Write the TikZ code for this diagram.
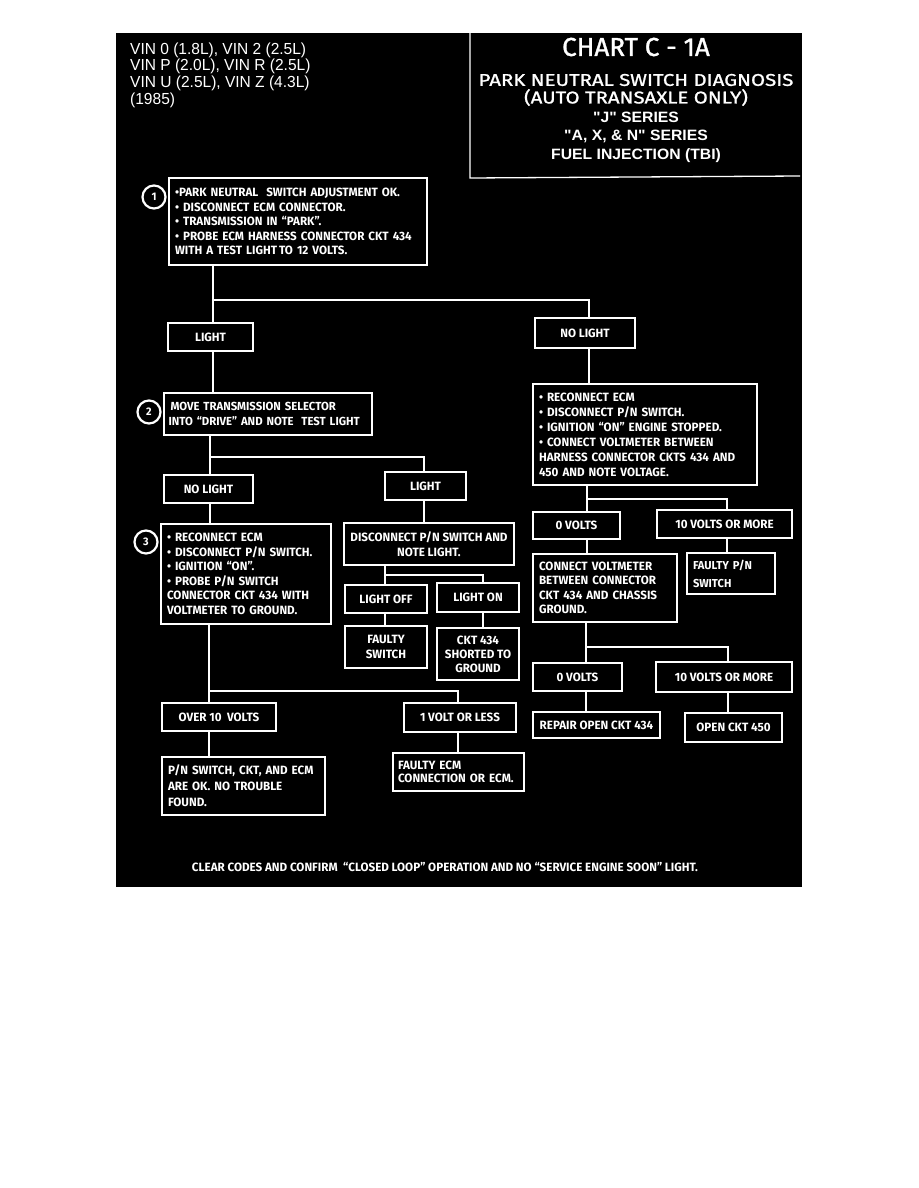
\documentclass[tikz,border=0pt]{standalone}
\usepackage{fontspec}
\setmainfont{Fira Sans}
\newfontfamily\boxfont[FakeStretch=0.97]{Fira Sans}
\newfontfamily\titlefont[FakeBold=1.2]{Fira Sans}
\newfontfamily\widetitlefont[FakeBold=1.2, FakeStretch=1.2]{Fira Sans}
\newfontfamily\vinfont[FakeStretch=0.97]{Liberation Sans}
\newfontfamily\helvfont[FakeStretch=1.05]{Liberation Sans}
\begin{document}
\begin{tikzpicture}[x=1pt,y=-1pt,
  box/.style={draw=white, line width=1.4pt, fill=black, text=white,
    font=\boxfont\bfseries\fontsize{12}{14.5}\selectfont, inner sep=0pt, align=center},
  lbox/.style={box, align=left, inner xsep=6pt},
  conn/.style={draw=white, line width=2.6pt},
  frame/.style={draw=white, line width=1.3pt},
  circ/.style={circle, draw=white, line width=2.2pt, minimum size=23pt, inner sep=0pt,
    text=white, font=\boxfont\bfseries\fontsize{11}{11}\selectfont},
  vin/.style={text=white, anchor=west, inner sep=0pt, font=\vinfont\fontsize{16}{16}\selectfont},
  ttl/.style={text=white, inner sep=0pt, font=\widetitlefont\fontsize{17}{17}\selectfont},
  sub/.style={text=white, inner sep=0pt, font=\helvfont\bfseries\fontsize{15}{15}\selectfont}
]
\useasboundingbox (0,0) rectangle (918,1188);
\fill[white] (0,0) rectangle (918,1188);
\fill[black] (116,33) rectangle (802,887);

% header
\node[vin] (vin1) at (130,50) {VIN 0 (1.8L), VIN 2 (2.5L)};
\node[vin] (vin2) at (130,66) {VIN P (2.0L), VIN R (2.5L)};
\node[vin] (vin3) at (130,83) {VIN U (2.5L), VIN Z (4.3L)};
\node[vin] (vin4) at (130,100) {(1985)};
\coordinate (dtop) at (470,33);
\coordinate (dbot) at (470,178);
\coordinate (dend) at (800,176);
\draw[frame] (dtop) -- (dbot) -- (dend);
\node[text=white, inner sep=0pt, font=\titlefont\fontsize{26}{26}\selectfont] (t1) at (636,47) {CHART C - 1A};
\node[ttl] (t2) at (636,80) {PARK NEUTRAL SWITCH DIAGNOSIS};
\node[ttl] (t3) at (636,97.5) {(AUTO TRANSAXLE ONLY)};
\node[sub] (t4) at (636,117) {"J" SERIES};
\node[sub] (t5) at (636,136) {"A, X, \& N" SERIES};
\node[sub] (t6) at (636,156) {FUEL INJECTION (TBI)};

% boxes
\node[lbox, text width=246pt, minimum height=87pt] (b1) at (298,221.5) {%
\textbullet PARK NEUTRAL\ \ SWITCH ADJUSTMENT OK.\\
\textbullet\ DISCONNECT ECM CONNECTOR.\\
\textbullet\ TRANSMISSION IN “PARK”.\\
\textbullet\ PROBE ECM HARNESS CONNECTOR CKT 434\\
WITH A TEST LIGHT\,TO 12 VOLTS.};
\node[circ] (c1) at (154,197) {1};

\node[box, minimum width=85pt, minimum height=28pt] (light1) at (210.5,337) {LIGHT};
\node[box, minimum width=100pt, minimum height=30pt] (nolight1) at (585,333) {NO LIGHT};

\node[lbox, text width=199pt, inner xsep=4.5pt, minimum height=42pt,
  font=\boxfont\bfseries\fontsize{11.7}{14.5}\selectfont] (b2) at (268,414) {%
\hspace{2pt}MOVE TRANSMISSION SELECTOR\\
INTO “DRIVE” AND NOTE\ \ TEST LIGHT};
\node[circ] (c2) at (149,412) {2};

\node[lbox, text width=212pt, minimum height=101pt, font=\boxfont\bfseries\fontsize{12}{15}\selectfont] (bR) at (645,434.5) {%
\textbullet\ RECONNECT ECM\\
\textbullet\ DISCONNECT P/N SWITCH.\\
\textbullet\ IGNITION “ON” ENGINE STOPPED.\\
\textbullet\ CONNECT VOLTMETER BETWEEN\\
HARNESS CONNECTOR CKTS 434 AND\\
450 AND NOTE VOLTAGE.};

\node[box, minimum width=89pt, minimum height=28pt] (nolight2) at (208.5,489) {NO LIGHT};
\node[box, minimum width=81pt, minimum height=28pt] (light2) at (425.5,486) {LIGHT};

\node[lbox, text width=158pt, minimum height=100pt] (b3) at (246,574) {%
\textbullet\ RECONNECT ECM\\
\textbullet\ DISCONNECT P/N SWITCH.\\
\textbullet\ IGNITION “ON”.\\
\textbullet\ PROBE P/N SWITCH\\
CONNECTOR CKT 434 WITH\\
VOLTMETER TO GROUND.};
\node[circ] (c3) at (146,542) {3};

\node[box, minimum width=170pt, minimum height=42pt] (disc) at (429,544) {DISCONNECT P/N SWITCH AND\\NOTE LIGHT.};
\node[box, minimum width=82pt, minimum height=28pt] (loff) at (386,599) {LIGHT OFF};
\node[box, minimum width=82pt, minimum height=29pt] (lon) at (478,597.5) {LIGHT ON};
\node[box, minimum width=82pt, minimum height=42pt] (fsw) at (386,647) {FAULTY\\SWITCH};
\node[box, minimum width=82pt, minimum height=52pt, font=\boxfont\bfseries\fontsize{12}{14}\selectfont] (ckt) at (478,654) {CKT 434\\SHORTED TO\\GROUND};

\node[box, minimum width=87pt, minimum height=27pt] (v0a) at (576.5,525.5) {0 VOLTS};
\node[box, minimum width=135pt, minimum height=28pt] (v10a) at (724.5,524) {10 VOLTS OR MORE};
\node[lbox, text width=132pt, minimum height=68pt] (cvm) at (605,588) {%
CONNECT VOLTMETER\\
BETWEEN CONNECTOR\\
CKT 434 AND CHASSIS\\
GROUND.};
\node[lbox, text width=76pt, minimum height=41pt, font=\boxfont\bfseries\fontsize{11.5}{18}\selectfont] (fpn) at (731,573.5) {FAULTY P/N\\SWITCH};
\node[box, minimum width=89pt, minimum height=28pt] (v0b) at (577.5,677) {0 VOLTS};
\node[box, minimum width=136pt, minimum height=30pt] (v10b) at (724,677) {10 VOLTS OR MORE};
\node[box, minimum width=127pt, minimum height=26pt] (rep) at (596.5,725) {REPAIR OPEN CKT 434};
\node[box, minimum width=97pt, minimum height=29pt] (opn) at (733.5,727.5) {OPEN CKT 450};

\node[box, minimum width=114pt, minimum height=28pt] (over) at (219,717) {OVER 10\ \ VOLTS};
\node[box, minimum width=112pt, minimum height=29pt] (onev) at (460,717.5) {1 VOLT OR LESS};
\node[lbox, text width=151pt, minimum height=58pt, font=\boxfont\bfseries\fontsize{12}{16}\selectfont] (pnok) at (243.5,786) {%
P/N SWITCH, CKT, AND ECM\\
ARE OK. NO TROUBLE\\
FOUND.};
\node[lbox, text width=121pt, minimum height=38pt, font=\boxfont\bfseries\fontsize{12}{13}\selectfont, inner xsep=5pt] (fecm) at (458.5,772) {%
FAULTY ECM\\
CONNECTION OR ECM.};

\node[text=white, inner sep=0pt, font=\boxfont\bfseries\fontsize{12}{12}\selectfont] (foot) at (445,867)
  {CLEAR CODES AND CONFIRM\ \ “CLOSED LOOP” OPERATION AND NO “SERVICE ENGINE SOON” LIGHT.};

% junctions
\coordinate (j1) at (213,300);
\coordinate (j1r) at (589,300);
\coordinate (j2) at (210,457);
\coordinate (j2r) at (424,457);
\coordinate (j3) at (385,575);
\coordinate (j3r) at (483,575);
\coordinate (j4) at (587,499);
\coordinate (j4r) at (727,499);
\coordinate (j5) at (586,647);
\coordinate (j5r) at (728,647);
\coordinate (j6) at (209,691);
\coordinate (j6r) at (458,691);

% connectors
\draw[conn] (b1.south -| j1) -- (light1.north -| j1);
\draw[conn] (j1) -- (j1r) -- (nolight1.north -| j1r);
\draw[conn] (light1.south -| j1) -- (b2.north -| j1);
\draw[conn] (nolight1.south -| j1r) -- (bR.north -| j1r);

\draw[conn] (b2.south -| j2) -- (nolight2.north -| j2);
\draw[conn] (j2) -- (j2r) -- (light2.north -| j2r);
\draw[conn] (nolight2.south -| j2) -- (b3.north -| j2);
\draw[conn] (light2.south -| j2r) -- (disc.north -| j2r);

\draw[conn] (disc.south -| j3) -- (loff.north -| j3);
\draw[conn] (j3) -- (j3r) -- (lon.north -| j3r);
\draw[conn] (loff.south -| j3) -- (fsw.north -| j3);
\draw[conn] (lon.south -| j3r) -- (ckt.north -| j3r);

\draw[conn] (bR.south -| j4) -- (v0a.north -| j4);
\draw[conn] (j4) -- (j4r) -- (v10a.north -| j4r);
\draw[conn] (v0a.south -| j4) -- (cvm.north -| j4);
\draw[conn] (v10a.south -| j4r) -- (fpn.north -| j4r);

\draw[conn] (cvm.south -| j5) -- (v0b.north -| j5);
\draw[conn] (j5) -- (j5r) -- (v10b.north -| j5r);
\draw[conn] (v0b.south -| j5) -- (rep.north -| j5);
\draw[conn] (v10b.south -| j5r) -- (opn.north -| j5r);

\draw[conn] (b3.south -| j6) -- (over.north -| j6);
\draw[conn] (j6) -- (j6r) -- (onev.north -| j6r);
\draw[conn] (over.south -| j6) -- (pnok.north -| j6);
\draw[conn] (onev.south -| j6r) -- (fecm.north -| j6r);
\end{tikzpicture}
\end{document}
